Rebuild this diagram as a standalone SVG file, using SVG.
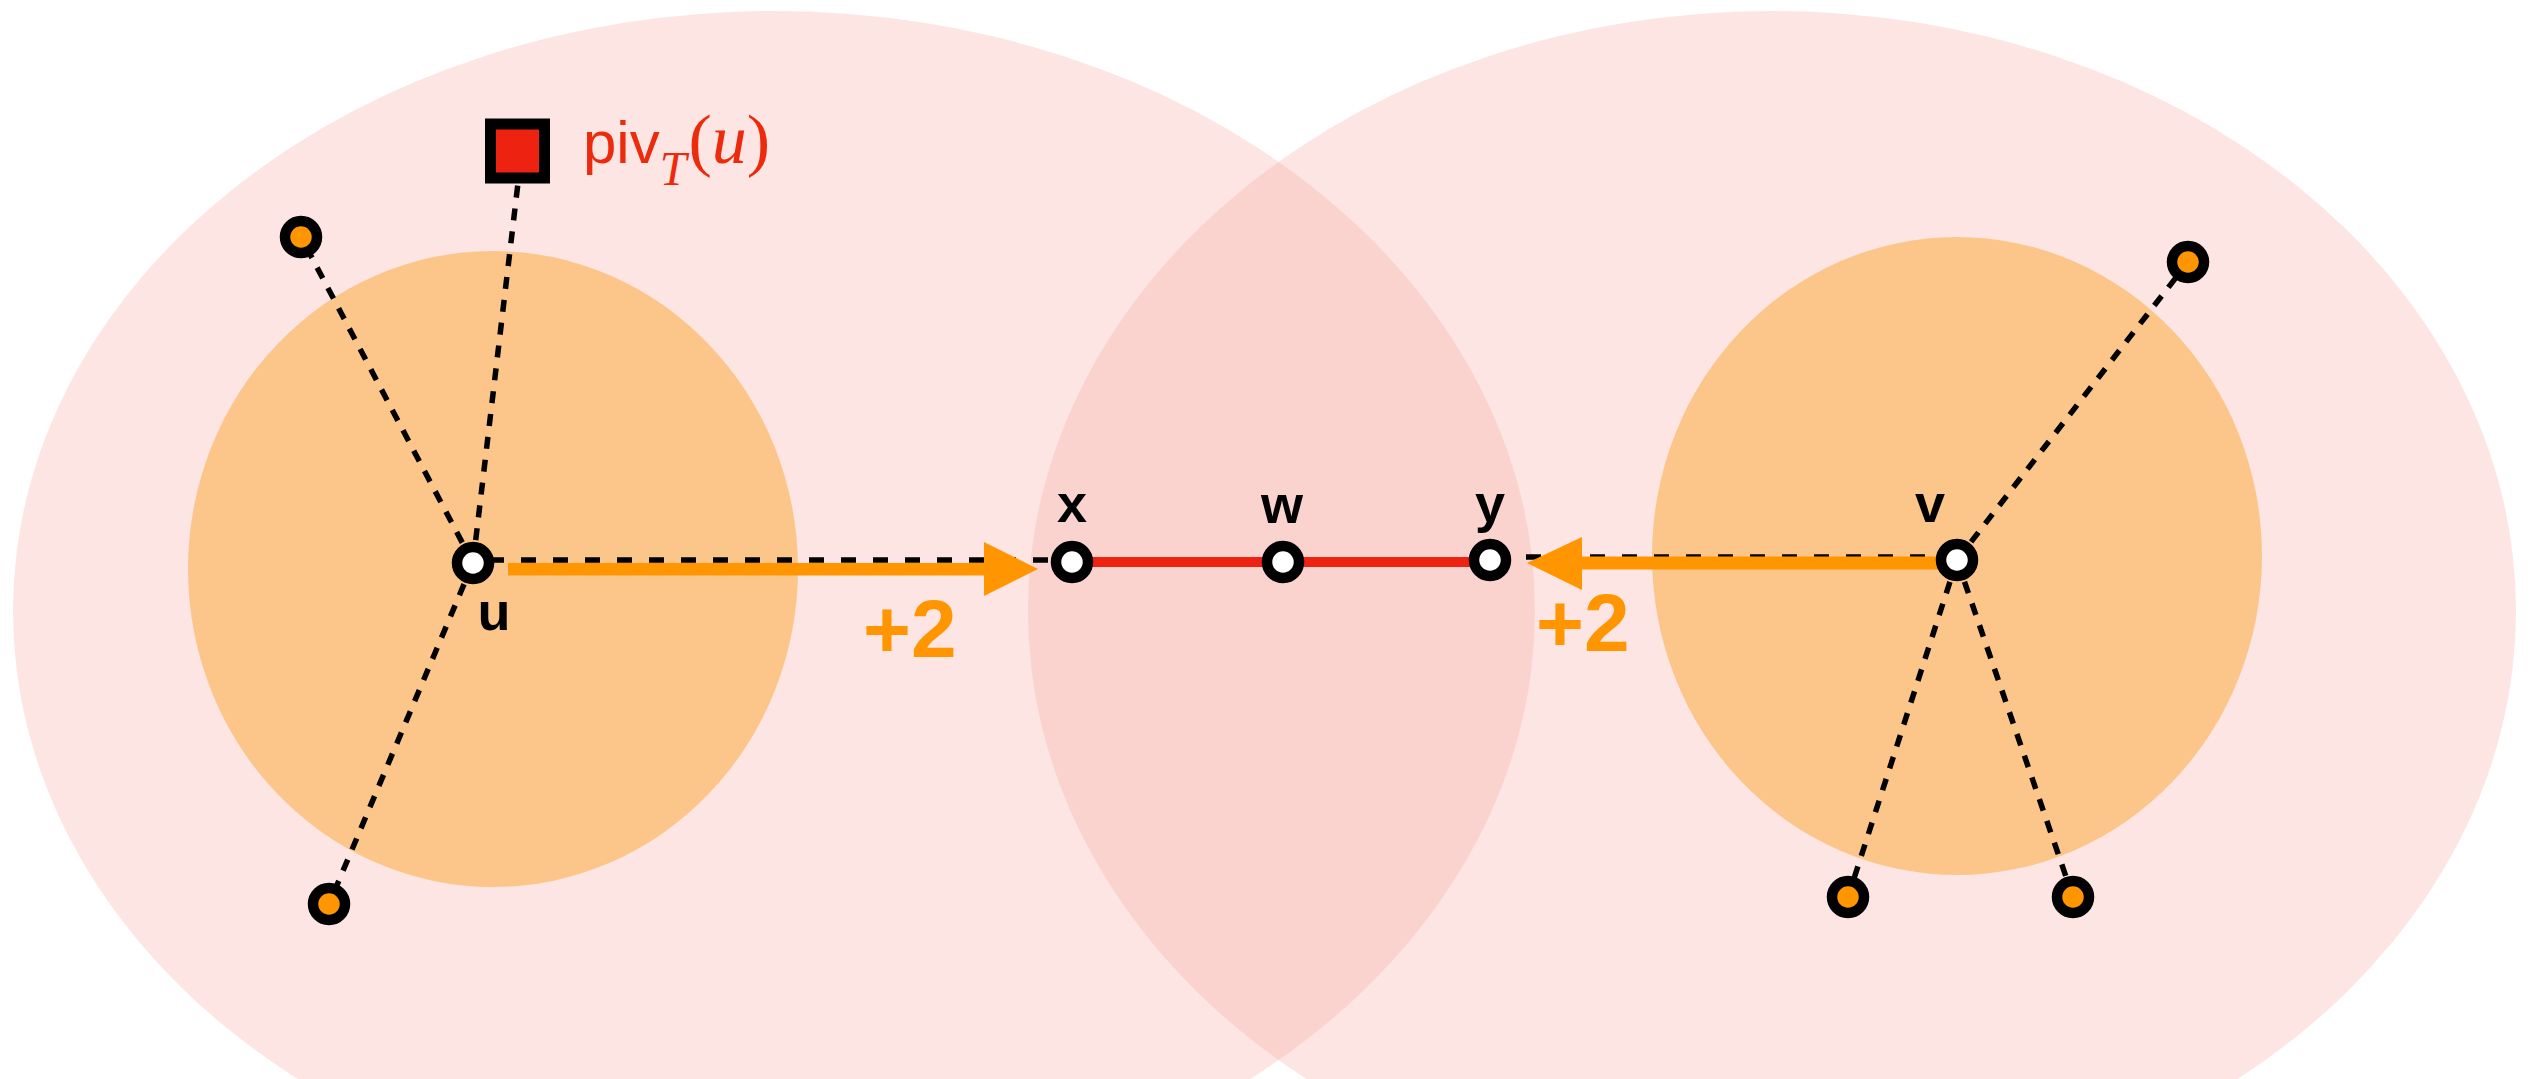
<svg xmlns="http://www.w3.org/2000/svg" width="2534" height="1079" viewBox="0 0 2534 1079">
  <style>
    .region { fill: #f4a9a1; fill-opacity: 0.3; }
    .ball { fill: #fcc68b; }
    .dash { stroke: #000; stroke-width: 5.5; fill: none; }
    .dh { stroke-dasharray: 15 17; }
    .dd { stroke-dasharray: 12 11; }
    .node { stroke: #000; stroke-width: 10.5; }
    .white { fill: #fff; }
    .orange { fill: #ff9500; }
    .lbl { font-family: "Liberation Sans", Arial, sans-serif; font-weight: bold; font-size: 54px; fill: #000; text-anchor: middle; }
    .plus { font-family: "Liberation Sans", Arial, sans-serif; font-weight: bold; font-size: 82px; fill: #ff9500; }
    .ser { font-family: "Liberation Serif", "Times New Roman", serif; }
  </style>
  <rect width="2534" height="1079" fill="#fff"/>
  <g id="regions">
    <ellipse class="region" cx="774" cy="611" rx="761" ry="600"/>
    <ellipse class="region" cx="1772" cy="611" rx="744" ry="600"/>
    <ellipse class="ball" cx="493" cy="569" rx="305" ry="318"/>
    <ellipse class="ball" cx="1957" cy="556" rx="305" ry="319"/>
  </g>
  <g id="connectors">
    <line class="dash dd" x1="473" y1="563" x2="518" y2="183"/>
    <line class="dash dd" x1="473" y1="563" x2="301" y2="237"/>
    <line class="dash dd" x1="473" y1="563" x2="329" y2="904"/>
    <line class="dash dh" x1="489" y1="560" x2="1072" y2="560"/>
    <line class="dash dh" x1="1957" y1="557" x2="1490" y2="557"/>
    <line class="dash dd" x1="1957" y1="560" x2="2188" y2="262"/>
    <line class="dash dd" x1="1957" y1="560" x2="1848" y2="897"/>
    <line class="dash dd" x1="1957" y1="560" x2="2073" y2="897"/>
    <line x1="1072" y1="562" x2="1490" y2="562" stroke="#ee2211" stroke-width="10"/>
    <rect class="orange" x="508" y="563" width="478" height="12.5"/>
    <polygon class="orange" points="984,542 1038,569 984,596"/>
    <rect class="orange" x="1580" y="556.5" width="364" height="13"/>
    <polygon class="orange" points="1582,537 1527,563 1582,590"/>
  </g>
  <g id="node-piv">
    <rect x="490.5" y="124" width="54" height="54" fill="#ee2211" stroke="#000" stroke-width="11"/>
    <text x="583" y="163" font-family="'Liberation Sans', Arial, sans-serif" font-size="60" fill="#ee2a0c">piv<tspan class="ser" font-style="italic" font-size="48" dy="22">T</tspan><tspan class="ser" font-size="70" dy="-22" dx="2">(</tspan><tspan class="ser" font-style="italic" font-size="70">u</tspan><tspan class="ser" font-size="70">)</tspan></text>
  </g>
  <g id="node-a"><circle class="node orange" cx="301" cy="237" r="16"/></g>
  <g id="node-b"><circle class="node orange" cx="329" cy="904" r="16"/></g>
  <g id="node-c"><circle class="node orange" cx="2188" cy="262" r="16"/></g>
  <g id="node-d"><circle class="node orange" cx="1848" cy="897" r="16"/></g>
  <g id="node-e"><circle class="node orange" cx="2073" cy="897" r="16"/></g>
  <g id="node-u">
    <circle class="node white" cx="473" cy="563" r="16"/>
    <text class="lbl" x="494" y="630">u</text>
  </g>
  <g id="node-x">
    <circle class="node white" cx="1072" cy="562" r="16"/>
    <text class="lbl" x="1072" y="522">x</text>
  </g>
  <g id="node-w">
    <circle class="node white" cx="1283" cy="562" r="16"/>
    <text class="lbl" x="1282" y="523">w</text>
  </g>
  <g id="node-y">
    <circle class="node white" cx="1490" cy="560" r="16"/>
    <text class="lbl" x="1490" y="522">y</text>
  </g>
  <g id="node-v">
    <circle class="node white" cx="1957" cy="560" r="16"/>
    <text class="lbl" x="1930" y="522">v</text>
  </g>
  <g id="labels">
    <text class="plus" x="863" y="657">+2</text>
    <text class="plus" x="1536" y="651">+2</text>
  </g>
</svg>
